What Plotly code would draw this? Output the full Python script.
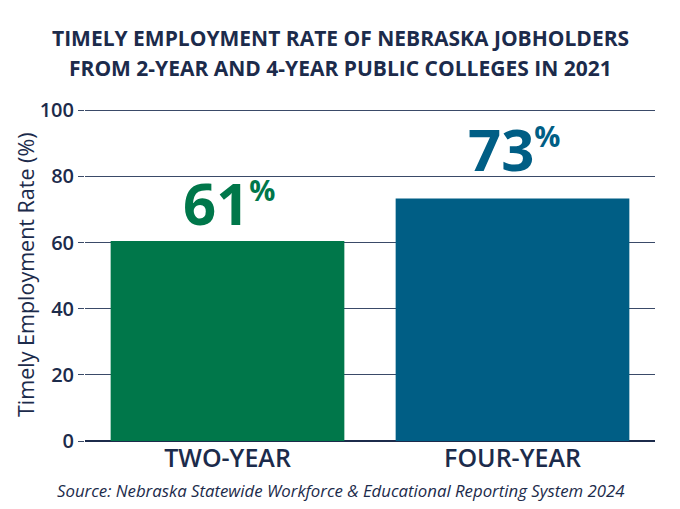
import plotly.graph_objects as go

categories = ["TWO-YEAR", "FOUR-YEAR"]
values = [60.5, 73.3]
labels = ["61", "73"]
colors = ["#00774A", "#005E85"]
yticks = [0, 20, 40, 60, 80, 100]

NAVY = "#1C2B4B"
GRID = "#3A4A68"
FONT = "Open Sans"

# the page body adds an 8px offset; coordinates below are screen pixels
OFF = 8
W, H = 680 - OFF, 509 - OFF
L, R, T, B = 85 - OFF, 25, 109 - OFF, 68
pw, ph = W - L - R, H - T - B

def px(xs):
    return (xs - OFF - L) / pw

def py(ys):
    return (H - B - (ys - OFF)) / ph

fig = go.Figure()
fig.add_trace(go.Bar(x=categories, y=values, marker=dict(color=colors, line=dict(width=0)),
                     hoverinfo="skip"))

label_shift = [-3, 9]
for c, v, l, col, s in zip(categories, values, labels, colors, label_shift):
    fig.add_annotation(x=c, y=v, xref="x", yref="y", yanchor="bottom", yshift=s,
                       text=f"<b>{l}<sup><span style='font-size:29px'>%</span></sup></b>",
                       showarrow=False, xshift=1,
                       font=dict(family=FONT, size=58, color=col))

fig.add_annotation(x=px(340), y=py(38), xref="paper", yref="paper", showarrow=False,
                   text="<b>TIMELY EMPLOYMENT RATE OF NEBRASKA JOBHOLDERS</b>",
                   font=dict(family=FONT, size=21, color=NAVY), xanchor="center", yanchor="middle")
fig.add_annotation(x=px(340), y=py(68), xref="paper", yref="paper", showarrow=False,
                   text="<b>FROM 2-YEAR AND 4-YEAR PUBLIC COLLEGES IN 2021</b>",
                   font=dict(family=FONT, size=21, color=NAVY), xanchor="center", yanchor="middle")
fig.add_annotation(x=px(25), y=py(275), xref="paper", yref="paper", showarrow=False,
                   text="Timely Employment Rate (%)", textangle=-90,
                   font=dict(family=FONT, size=21.5, color=NAVY), xanchor="center", yanchor="middle")
fig.add_annotation(x=px(340), y=py(490), xref="paper", yref="paper", showarrow=False,
                   text="<i>Source: Nebraska Statewide Workforce &amp; Educational Reporting System 2024</i>",
                   font=dict(family=FONT, size=16.8, color=NAVY), xanchor="center", yanchor="middle")

fig.update_layout(
    width=W, height=H, margin=dict(l=L, r=R, t=T, b=B),
    paper_bgcolor="white", plot_bgcolor="white", showlegend=False, bargap=0.18,
    xaxis=dict(range=[-0.5, 1.5], showgrid=False, zeroline=False, showline=False,
               ticks="", tickfont=dict(family=FONT, size=25, color=NAVY, weight=600)),
    yaxis=dict(range=[0, 100.4], tickvals=yticks, showgrid=True, gridcolor=GRID, gridwidth=1.3,
               zeroline=True, zerolinecolor=NAVY, zerolinewidth=1.8,
               ticks="outside", ticklen=6, tickcolor=GRID, tickwidth=1.3,
               tickfont=dict(family=FONT, size=20, color=NAVY, weight=600), showline=False),
)
fig.write_html("out.html")
